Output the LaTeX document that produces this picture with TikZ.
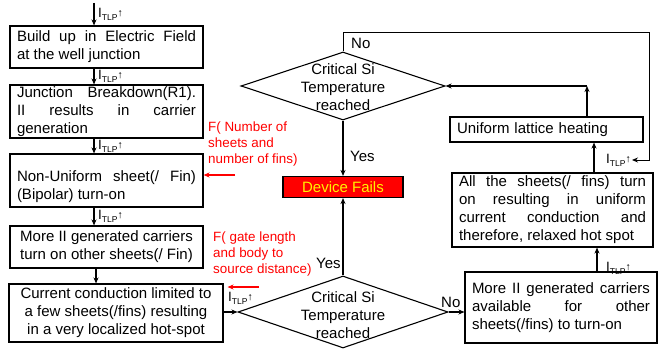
\documentclass[tikz,border=0pt]{standalone}
\usepackage{fontspec}
\setmainfont{Liberation Sans}
\usetikzlibrary{arrows.meta,shapes.geometric}
\newcommand{\itlp}{{\fontsize{13.5}{13.5}\selectfont I\raisebox{-3pt}{\fontsize{8.5}{8.5}\selectfont TLP}\raisebox{1pt}{\fontsize{10.5}{10.5}\selectfont ↑}}}
\newcommand{\jl}[2]{\makebox[#1pt][s]{#2}}
\begin{document}
\begin{tikzpicture}[x=1pt,y=-1pt, font=\fontsize{15}{18}\selectfont,
  box/.style={draw, line width=1.1pt, inner xsep=7pt, inner ysep=1pt, align=left},
  arr/.style={line width=1.4pt, -{Stealth[length=6pt,width=5pt]}},
  thinarr/.style={line width=0.9pt, -{Stealth[length=6pt,width=5pt]}},
  redarr/.style={red, line width=1.3pt, -{Stealth[length=6pt,width=5pt]}},
  lab/.style={inner sep=1pt, anchor=west},
  yn/.style={inner sep=0pt, anchor=west},
  redtxt/.style={text=red, font=\fontsize{13.4}{16}\selectfont, align=left, anchor=west, inner sep=0pt},
  dia/.style={draw, diamond, line width=1.1pt, inner sep=0pt}]
\useasboundingbox (0,0) rectangle (659,350);

% left column boxes
\node[box, minimum width=193pt, minimum height=42pt] (b1) at (106.5,47)
  {\jl{179}{Build up in Electric Field}\\at the well junction};
\node[box, minimum width=193pt, minimum height=53pt] (b2) at (106.5,111.5)
  {\jl{179}{Junction Breakdown(R1).}\\\jl{179}{II results in carrier}\\generation};
\node[box, minimum width=193pt, minimum height=53pt] (b3) at (106.5,180.5)
  {\rule{0pt}{24pt}\jl{179}{Non-Uniform sheet(/ Fin)}\\(Bipolar) turn-on};
\node[box, align=center, minimum width=193pt, minimum height=42pt] (b4) at (106.5,247)
  {More II generated carriers\\turn on other sheets(/ Fin)};
\node[box, align=center, minimum width=214pt, minimum height=58pt] (b5) at (116,313)
  {Current conduction limited to\\a few sheets(/fins) resulting\\in a very localized hot-spot};

% centre column
\node[draw, fill=red, text=yellow, line width=1.1pt, minimum width=120pt, minimum height=21pt, inner sep=0pt] (dev) at (343,187) {Device Fails};
\node[dia, minimum width=204pt, minimum height=68pt,
  label={[align=center, yshift=-1pt]center:Critical Si\\Temperature\\reached}] (d1) at (343,86) {};
\node[dia, minimum width=210pt, minimum height=72pt,
  label={[align=center, yshift=-3pt]center:Critical Si\\Temperature\\reached}] (d2) at (343,312) {};

% right column
\node[box, text width=179pt, minimum width=193pt, minimum height=25pt, inner ysep=0pt] (u) at (546.5,129.5) {Uniform lattice heating};
\node[box, minimum width=201pt, minimum height=74pt] (a) at (552.5,210)
  {\jl{187}{All the sheets(/ fins) turn}\\\jl{187}{on resulting in uniform}\\\jl{187}{current conduction and}\\therefore, relaxed hot spot};
\node[box, minimum width=192pt, minimum height=71pt] (m) at (561,307.5)
  {\jl{178}{More II generated carriers}\\\jl{178}{available for other}\\sheets(/fins) to turn-on};

% I_TLP labels
\node[lab] (l0) at (97,14) {\itlp};
\node[lab] (l1) at (97,76) {\itlp};
\node[lab] (l2) at (97,146) {\itlp};
\node[lab] (l3) at (97,216) {\itlp};
\node[lab] (l4) at (227,298) {\itlp};
\node[lab, anchor=east] (l5) at (632,160) {\itlp};
\node[lab] (l6) at (605,268) {\itlp};

% Yes / No
\node[yn] (y1) at (350,156) {Yes};
\node[yn] (y2) at (316,263) {Yes};
\node[yn] (n1) at (351,43) {No};
\node[yn] (n2) at (441,302) {No};

% red annotations
\node[redtxt] (r1) at (208,144) {F( Number of\\sheets and\\number of fins)};
\node[redtxt] (r2) at (213,254) {F( gate length\\and body to\\source distance)};
\coordinate (r1s) at (235,175);
\draw[redarr] (r1s) -- (b3.east |- r1s);
\coordinate (r2s) at (259,287);
\draw[redarr] (r2s) -- ([xshift=4pt]b5.east |- r2s);

% connectors left column
\coordinate (ax) at (94,0);
\coordinate (top) at (94,3);
\draw[arr] (top) -- (b1.north -| ax);
\draw[arr] (b1.south -| ax) -- (b2.north -| ax);
\draw[arr] (b2.south -| ax) -- (b3.north -| ax);
\draw[arr] (b3.south -| ax) -- (b4.north -| ax);
\coordinate (bx) at (96,0);
\draw[arr] (b4.south -| bx) -- (b5.north -| bx);
\draw[arr] (b5.east |- d2.west) -- (d2.west);

% centre connectors
\draw[arr] (d2.north) -- (dev.south);
\draw[arr] (d1.south) -- (dev.north);
\draw[arr] (d2.east) -- (m.west |- d2.east);

% right column connectors
\coordinate (mx) at (597,0);
\draw[arr] (m.north -| mx) -- (a.south -| mx);
\coordinate (ax2) at (594,0);
\draw[arr] (a.north -| ax2) -- (u.south -| ax2);
\coordinate (corner) at (587,86);
\draw[arr] (u.north -| corner) -- (corner);
\draw[arr] (corner) -- (d1.east);
\coordinate (lc) at (649,32);
\draw[thinarr] (d1.north) |- (lc) |- (l5.east);
\end{tikzpicture}
\end{document}
